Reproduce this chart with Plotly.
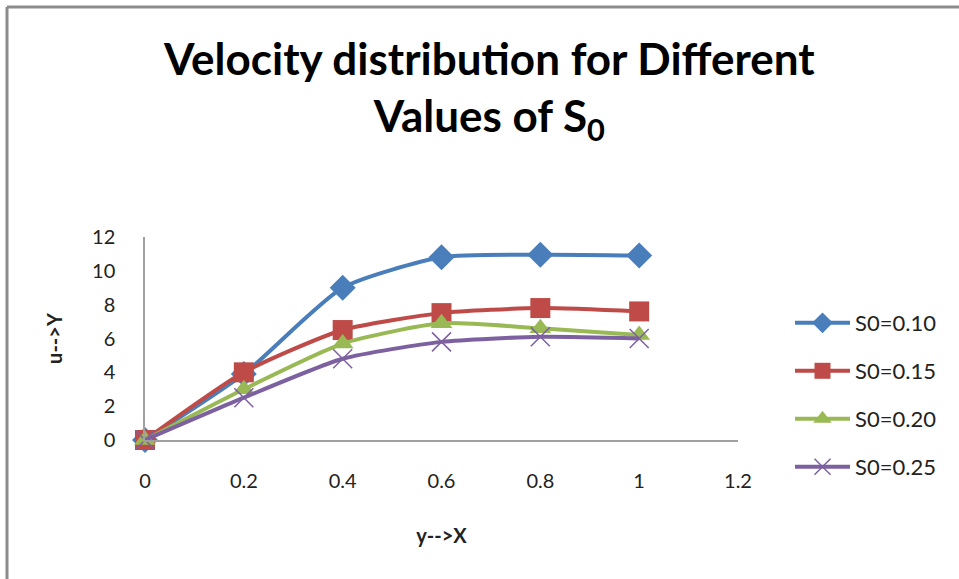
import plotly.graph_objects as go

x_vals = [0, 0.2, 0.4, 0.6, 0.8, 1.0]
s010 = [0, 3.9, 9.0, 10.8, 10.95, 10.9]
s015 = [0, 4.0, 6.5, 7.5, 7.8, 7.6]
s020 = [0, 3.0, 5.7, 6.9, 6.6, 6.2]
s025 = [0, 2.5, 4.8, 5.8, 6.1, 6.0]
names = ["S0=0.10", "S0=0.15", "S0=0.20", "S0=0.25"]
colors = ["#4A7EBB", "#BE4B48", "#98B954", "#7D60A0"]
symbols = ["diamond", "square", "triangle-up", "x-thin-open"]
sizes = [20, 20, 19, 19]
x_ticks = [0, 0.2, 0.4, 0.6, 0.8, 1, 1.2]
x_ticktext = ["0", "0.2", "0.4", "0.6", "0.8", "1", "1.2"]
y_ticks = [0, 2, 4, 6, 8, 10, 12]

W, H = 959, 579
L, R, T, B = 145, 221, 237, 139
pw = W - L - R
ph = H - T - B


def px_x(p):
    return (p - L) / pw


def px_y(p):
    return (H - B - p) / ph


legend_ids = ["legend", "legend2", "legend3", "legend4"]
legend_rows = [323, 371, 419, 467]

fig = go.Figure()
for name, ys, c, s, sz, lg in zip(names, [s010, s015, s020, s025], colors, symbols, sizes, legend_ids):
    marker = dict(symbol=s, size=sz, color=c)
    if s == "x-thin-open":
        marker["line"] = dict(color=c, width=1.5)
    fig.add_trace(go.Scatter(
        x=x_vals, y=ys, name=name, mode="lines+markers", legend=lg,
        line=dict(color=c, width=4, shape="spline", smoothing=0.6),
        marker=marker, cliponaxis=False,
    ))

layout_legends = {}
for lg, row in zip(legend_ids, legend_rows):
    layout_legends[lg] = dict(
        x=px_x(790), xanchor="left",
        y=px_y(row), yanchor="middle",
        font=dict(size=22, color="#222222"), itemwidth=55,
        bgcolor="rgba(0,0,0,0)",
    )

fig.update_layout(
    width=W, height=H,
    margin=dict(l=L, r=R, t=T, b=B),
    paper_bgcolor="white", plot_bgcolor="white",
    font=dict(family="Lato, 'Open Sans', sans-serif", color="#222222", size=20),
    xaxis=dict(
        range=[0, 1.2], tickvals=x_ticks, ticktext=x_ticktext,
        showgrid=False, zeroline=False, showline=True,
        linecolor="#A0A0A0", linewidth=1.5, ticks="",
        ticklabelstandoff=22,
        title=dict(text="<b>y-->X</b>", font=dict(size=20), standoff=38),
    ),
    yaxis=dict(
        range=[0, 12], tickvals=y_ticks,
        showgrid=False, zeroline=False, showline=True,
        linecolor="#A0A0A0", linewidth=1.5, ticks="",
        ticklabelstandoff=24,
        title=dict(text="<b>u-->Y</b>", font=dict(size=20), standoff=24),
    ),
    showlegend=True,
    **layout_legends,
)

fig.add_annotation(
    text="<b>Velocity distribution for Different<br>Values of S<sub>0</sub></b>",
    xref="paper", yref="paper", x=px_x(489), y=px_y(90),
    xanchor="center", yanchor="middle", showarrow=False,
    font=dict(size=44, color="#000000"),
)

fig.add_shape(type="line", xref="paper", yref="paper",
              x0=px_x(7), x1=px_x(7), y0=px_y(7), y1=px_y(579),
              line=dict(color="#8C8C8C", width=3))
fig.add_shape(type="line", xref="paper", yref="paper",
              x0=px_x(7), x1=px_x(959), y0=px_y(7), y1=px_y(7),
              line=dict(color="#8C8C8C", width=3))

fig.write_html("out.html")
